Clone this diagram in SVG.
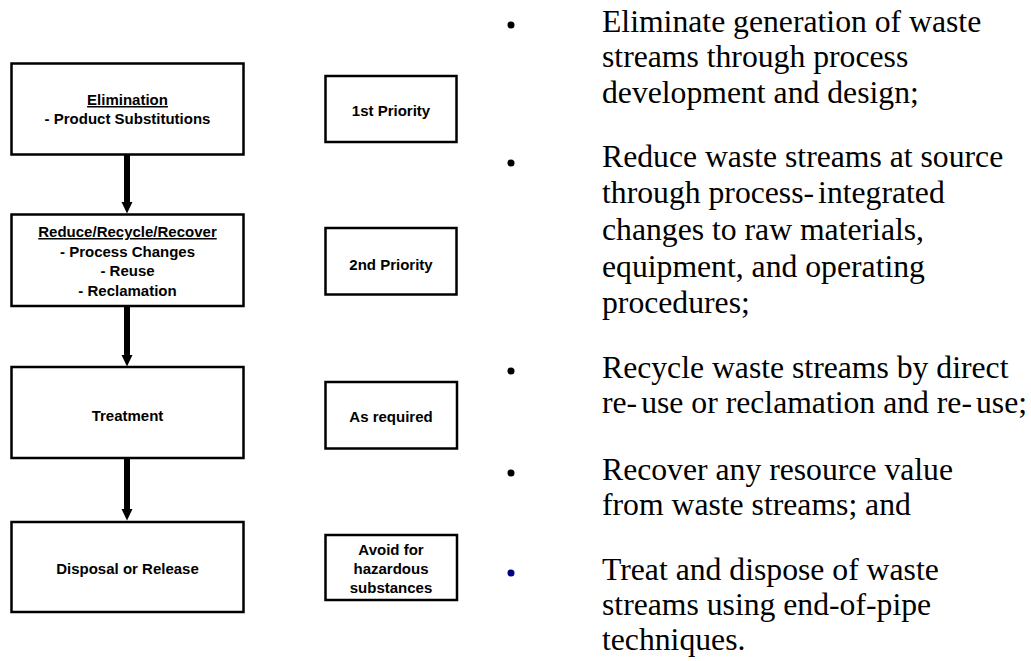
<svg xmlns="http://www.w3.org/2000/svg" width="1031" height="661" viewBox="0 0 1031 661">
<style>
.box{fill:#fff;stroke:#000;stroke-width:2.5}
.bt{font-family:"Liberation Sans",Arial,sans-serif;font-weight:bold;font-size:15px;fill:#000;text-anchor:middle}
.u{text-decoration:underline}
.st{font-family:"Liberation Serif","Times New Roman",serif;font-size:31.7px;fill:#000}
.shaft{stroke:#000;stroke-width:6}
.head{fill:#000}
</style>
<rect width="1031" height="661" fill="#fff"/>
<g id="connectors">
<line class="shaft" x1="127" y1="155" x2="127" y2="203"/>
<polygon class="head" points="121.5,202 132.5,202 127,213.5"/>
<line class="shaft" x1="127" y1="307" x2="127" y2="356"/>
<polygon class="head" points="121.5,355 132.5,355 127,366.5"/>
<line class="shaft" x1="127" y1="459" x2="127" y2="510"/>
<polygon class="head" points="121.5,509 132.5,509 127,520.5"/>
</g>
<g id="n-elimination">
<rect class="box" x="11.5" y="63.5" width="232" height="91"/>
<text class="bt u" x="127.5" y="105">Elimination</text>
<text class="bt" x="127.5" y="124">- Product Substitutions</text>
</g>
<g id="n-reduce">
<rect class="box" x="11.5" y="214.5" width="232" height="91.5"/>
<text class="bt u" x="127.5" y="237">Reduce/Recycle/Recover</text>
<text class="bt" x="127.5" y="257">- Process Changes</text>
<text class="bt" x="127.5" y="276">- Reuse</text>
<text class="bt" x="127.5" y="296">- Reclamation</text>
</g>
<g id="n-treatment">
<rect class="box" x="11.5" y="367" width="232" height="91"/>
<text class="bt" x="127.5" y="421">Treatment</text>
</g>
<g id="n-disposal">
<rect class="box" x="11.5" y="522" width="232" height="90"/>
<text class="bt" x="127.5" y="574">Disposal or Release</text>
</g>
<g id="n-p1">
<rect class="box" x="325.5" y="76" width="131" height="66"/>
<text class="bt" x="391" y="116">1st Priority</text>
</g>
<g id="n-p2">
<rect class="box" x="325.5" y="228" width="131" height="66.5"/>
<text class="bt" x="391" y="270">2nd Priority</text>
</g>
<g id="n-p3">
<rect class="box" x="325.5" y="382" width="131.5" height="66.5"/>
<text class="bt" x="391" y="422">As required</text>
</g>
<g id="n-p4">
<rect class="box" x="325.5" y="535" width="131.5" height="65"/>
<text class="bt" x="391" y="555">Avoid for</text>
<text class="bt" x="391" y="574">hazardous</text>
<text class="bt" x="391" y="593">substances</text>
</g>
<g id="bullets">
<circle cx="511" cy="25" r="3.5" fill="#000"/>
<text class="st" x="602" y="32">Eliminate generation of waste</text>
<text class="st" x="602" y="67">streams through process</text>
<text class="st" x="602" y="103">development and design;</text>
<circle cx="511" cy="163" r="3.5" fill="#000"/>
<text class="st" x="602" y="167">Reduce waste streams at source</text>
<text class="st" x="602" y="203">through process-<tspan dx="4">integrated</tspan></text>
<text class="st" x="602" y="240">changes to raw materials,</text>
<text class="st" x="602" y="277">equipment, and operating</text>
<text class="st" x="602" y="313">procedures;</text>
<circle cx="511" cy="371" r="3.5" fill="#000"/>
<text class="st" x="602" y="378">Recycle waste streams by direct</text>
<text class="st" x="602" y="413">re-<tspan dx="4">use or reclamation and re-</tspan><tspan dx="4">use;</tspan></text>
<circle cx="511" cy="473" r="3.5" fill="#000"/>
<text class="st" x="602" y="480">Recover any resource value</text>
<text class="st" x="602" y="515">from waste streams; and</text>
<circle cx="511" cy="573" r="3.5" fill="#000080"/>
<text class="st" x="602" y="580">Treat and dispose of waste</text>
<text class="st" x="602" y="615">streams using end-of-pipe</text>
<text class="st" x="602" y="650">techniques.</text>
</g>
</svg>
